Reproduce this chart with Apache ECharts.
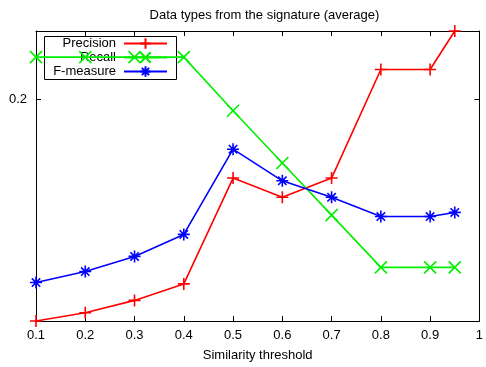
<!DOCTYPE html>
<html>
<head>
<meta charset="utf-8">
<script src="https://cdn.jsdelivr.net/npm/echarts@6/dist/echarts.min.js"></script>
<style>
  html, body { margin: 0; padding: 0; background: #fff; }
  #chart { width: 486px; height: 367px; }
</style>
</head>
<body>
<div id="chart"></div>
<script>
// values
const thresholds = [0.1, 0.2, 0.3, 0.4, 0.5, 0.6, 0.7, 0.8, 0.9, 0.95]
const precision = [0.039, 0.045, 0.054, 0.066, 0.143, 0.129, 0.143, 0.222, 0.222, 0.250]
const recall = [0.231, 0.231, 0.231, 0.231, 0.192, 0.154, 0.116, 0.078, 0.078, 0.078]
const fmeasure = [0.067, 0.075, 0.086, 0.102, 0.164, 0.141, 0.129, 0.115, 0.115, 0.118]
const xTicks = [0.1, 0.2, 0.3, 0.4, 0.5, 0.6, 0.7, 0.8, 0.9, 1]
const yTicks = [0.2]

const FONT = 'Liberation Sans'

const SYM_PLUS = 'path://M0,5L10,5M5,0L5,10'
const SYM_CROSS = 'path://M0,0L10,10M0,10L10,0'
const SYM_STAR = 'path://M0,5L10,5M5,0L5,10M1.5,1.5L8.5,8.5M1.5,8.5L8.5,1.5'

const chart = echarts.init(document.getElementById('chart'))

function pairs(vals) {
  return thresholds.map((t, i) => [t, vals[i]])
}

function makeSeries(name, vals, color, symbol) {
  return {
    name,
    type: 'line',
    data: pairs(vals),
    symbol,
    symbolSize: 12,
    z: 3,
    lineStyle: { color, width: 1.6 },
    itemStyle: { color, borderColor: color, borderWidth: 1.6 },
    emphasis: { disabled: true },
    animation: false
  }
}

function legendItem(name, top) {
  return {
    data: [name],
    right: 486 - 168,
    top,
    align: 'right',
    orient: 'vertical',
    padding: 0,
    itemWidth: 43,
    itemHeight: 13,
    z: 1,
    selectedMode: false,
    textStyle: { fontFamily: FONT, fontSize: 13, color: '#000', padding: [0, 3, 0, 0] }
  }
}

const option = {
  animation: false,
  title: {
    text: 'Data types from the signature (average)',
    left: 259.5,
    textAlign: 'center',
    top: 4,
    textStyle: { fontFamily: FONT, fontSize: 13, fontWeight: 'normal', color: '#000' }
  },
  legend: [
    legendItem('Precision', 37),
    legendItem('Recall', 51),
    legendItem('F-measure', 65)
  ],
  graphic: [{
    type: 'rect',
    shape: { x: 44.5, y: 36.5, width: 132, height: 43 },
    style: { fill: 'none', stroke: '#000', lineWidth: 1 },
    z: 0
  }],
  grid: { left: 36, right: 3, top: 31, bottom: 44 },
  xAxis: [{
    type: 'value',
    min: 0.1,
    max: 1,
    interval: 0.1,
    name: 'Similarity threshold',
    nameLocation: 'middle',
    nameGap: 28,
    nameTextStyle: { fontFamily: FONT, fontSize: 13, color: '#000' },
    axisLine: { show: true, lineStyle: { color: '#000', width: 1 } },
    axisTick: { show: true, inside: true, length: 5, lineStyle: { color: '#000' } },
    axisLabel: {
      fontFamily: FONT, fontSize: 13, color: '#000', margin: 8,
      customValues: xTicks
    },
    splitLine: { show: false }
  }, {
    type: 'value',
    position: 'top',
    min: 0.1,
    max: 1,
    interval: 0.1,
    axisLine: { show: true, lineStyle: { color: '#000', width: 1 } },
    axisTick: { show: true, inside: true, length: 5, lineStyle: { color: '#000' } },
    axisLabel: { show: false },
    splitLine: { show: false }
  }],
  yAxis: [{
    type: 'value',
    min: 0.039,
    max: 0.25,
    axisLine: { show: true, onZero: false, lineStyle: { color: '#000', width: 1 } },
    axisTick: { show: true, inside: true, length: 5, customValues: yTicks, lineStyle: { color: '#000' } },
    axisLabel: { fontFamily: FONT, fontSize: 13, color: '#000', margin: 9, customValues: yTicks },
    splitLine: { show: false }
  }, {
    type: 'value',
    position: 'right',
    min: 0.039,
    max: 0.25,
    axisLine: { show: true, onZero: false, lineStyle: { color: '#000', width: 1 } },
    axisTick: { show: true, inside: true, length: 5, customValues: yTicks, lineStyle: { color: '#000' } },
    axisLabel: { show: false },
    splitLine: { show: false }
  }],
  series: [
    makeSeries('Precision', precision, '#ff0000', SYM_PLUS),
    makeSeries('Recall', recall, '#00ee00', SYM_CROSS),
    makeSeries('F-measure', fmeasure, '#0000ff', SYM_STAR)
  ]
}

chart.setOption(option)
</script>
</body>
</html>
